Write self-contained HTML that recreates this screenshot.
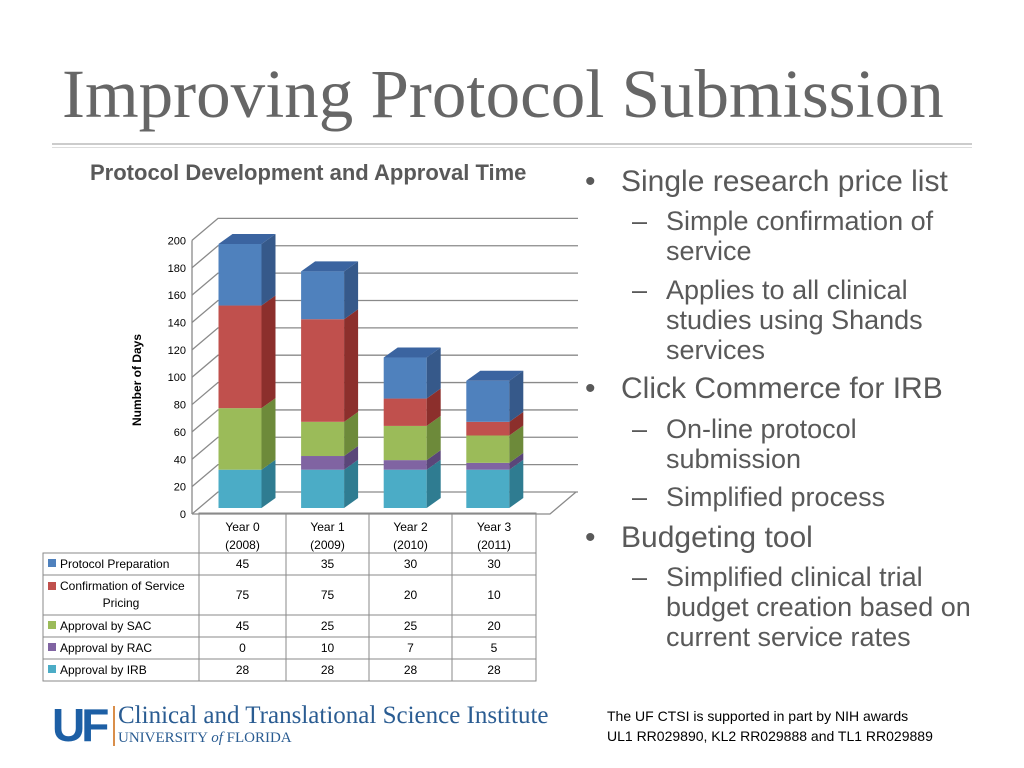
<!DOCTYPE html>
<html><head><meta charset="utf-8"><style>
body{margin:0;width:1024px;height:768px;background:#fff;overflow:hidden;position:relative;font-family:"Liberation Sans","DejaVu Sans",sans-serif;color:#595959}
.t{position:absolute;white-space:nowrap}
.b{font-size:30px}
.s{font-size:27px;line-height:30px}
</style></head><body>
<div class="t" style="left:62px;top:55px;font-family:'Liberation Serif',serif;font-size:69px;color:#666">Improving Protocol Submission</div>
<div style="position:absolute;left:52px;top:143px;width:920px;height:2px;background:#ccc"></div>
<div style="position:absolute;left:52px;top:147px;width:920px;height:1px;background:#ddd"></div>
<div class="t" style="left:90px;top:160px;font-size:22px;font-weight:bold;color:#595959">Protocol Development and Approval Time</div>

<div class="t b" style="left:585px;top:165px">•</div>
<div class="t b" style="left:621px;top:165px">Single research price list</div>
<div class="t s" style="left:632px;top:206px">–</div>
<div class="t s" style="left:666px;top:206px">Simple confirmation of<br>service</div>
<div class="t s" style="left:632px;top:275px">–</div>
<div class="t s" style="left:666px;top:275px">Applies to all clinical<br>studies using Shands<br>services</div>
<div class="t b" style="left:585px;top:372px">•</div>
<div class="t b" style="left:621px;top:372px">Click Commerce for IRB</div>
<div class="t s" style="left:632px;top:414px">–</div>
<div class="t s" style="left:666px;top:414px">On-line protocol<br>submission</div>
<div class="t s" style="left:632px;top:482px">–</div>
<div class="t s" style="left:666px;top:482px">Simplified process</div>
<div class="t b" style="left:585px;top:521px">•</div>
<div class="t b" style="left:621px;top:521px">Budgeting tool</div>
<div class="t s" style="left:632px;top:562px">–</div>
<div class="t s" style="left:666px;top:562px">Simplified clinical trial<br>budget creation based on<br>current service rates</div>

<div class="t" style="left:607px;top:706px;font-size:14px;line-height:20px;color:#000">The UF CTSI is supported in part by NIH awards<br>UL1 RR029890, KL2 RR029888 and TL1 RR029889</div>

<div style="position:absolute;left:52px;top:706px">
<div class="t" style="left:0;top:-8px;font-family:'Liberation Sans',sans-serif;font-weight:bold;font-size:46px;color:#1d5fa5;letter-spacing:-4px">UF</div>
<div style="position:absolute;left:61px;top:0;width:2px;height:40px;background:#d98e4a"></div>
<div class="t" style="left:66px;top:-4px;font-family:'Liberation Serif',serif;font-size:25px;color:#2a5c92">Clinical and Translational Science Institute</div>
<div class="t" style="left:66px;top:24px;font-family:'Liberation Serif',serif;font-size:15px;color:#2a5c92">UNIVERSITY <i>of</i> FLORIDA</div>
</div>

<svg id="chart" style="position:absolute;left:0;top:0" width="1024" height="768"></svg>

<script>
const categories=["Year 0","Year 1","Year 2","Year 3"];
const years=["(2008)","(2009)","(2010)","(2011)"];
const seriesNames=["Approval by IRB","Approval by RAC","Approval by SAC","Confirmation of Service Pricing","Protocol Preparation"];
const irb=[28,28,28,28];
const rac=[0,10,7,5];
const sac=[45,25,25,20];
const conf=[75,75,20,10];
const prep=[45,35,30,30];
const yTicks=[0,20,40,60,80,100,120,140,160,180,200];

const svgEl=document.getElementById('chart');
const NS='http://www.w3.org/2000/svg';
function mk(tag,attrs,parent){const e=document.createElementNS(NS,tag);for(const k in attrs)e.setAttribute(k,attrs[k]);(parent||svgEl).appendChild(e);return e;}
const K=1.368, Y0=514, X0=192, DX=26, DY=-22, RIGHT=578;
function yF(v){return Y0-v*K;}
function xC(i){return 240+i*82.6;}
for(const v of yTicks){
  const y=yF(v);
  const g=mk('polyline',{points:`${X0},${y} ${X0+DX},${y+DY} ${RIGHT},${y+DY}`,fill:'none',stroke:'#8a8a8a','stroke-width':1.3});
  
  
  const t=mk('text',{x:X0-6,y:y+4,'text-anchor':'end','font-size':11,fill:'#000','font-family':'Liberation Sans, sans-serif'});
  t.textContent=v;
  
  
}
const ax=mk('line',{x1:X0,y1:yF(0),x2:X0,y2:yF(200),stroke:'#8a8a8a','stroke-width':1.3});


const floorL=mk('polyline',{points:`${X0},${Y0} 550,${Y0} ${550+DX},${Y0+DY}`,fill:'none',stroke:'#8a8a8a','stroke-width':1.3});


const yt=mk('text',{x:0,y:0,'text-anchor':'middle','font-size':12,'font-weight':'bold',fill:'#000',transform:'translate(141,380) rotate(-90)','font-family':'Liberation Sans, sans-serif'});
yt.textContent='Number of Days';



const seriesList=[irb,rac,sac,conf,prep];
const frontC=['#4bacc6','#8064a2','#9bbb59','#c0504d','#4f81bd'];
const sideC=['#2f7c91','#5a4679','#6d8a3a','#8c2f2c','#36598a'];
const topC='#3b64a0';
const W=43, BDX=14, BDY=-10, BASE=508;
for(let i=0;i<categories.length;i++){
  let cum=0; const x=xC(i)-W/2;
  for(let s=0;s<seriesList.length;s++){
    const v=seriesList[s][i]; if(v<=0) continue;
    const y1=BASE-cum*K, y2=BASE-(cum+v)*K;
    const f=mk('rect',{x:x,y:y2,width:W,height:y1-y2,fill:frontC[s]});
    
    
    const sd=mk('polygon',{points:`${x+W},${y1} ${x+W+BDX},${y1+BDY} ${x+W+BDX},${y2+BDY} ${x+W},${y2}`,fill:sideC[s]});
    
    
    cum+=v;
  }
  const yt2=BASE-cum*K;
  const tp=mk('polygon',{points:`${x},${yt2} ${x+BDX},${yt2+BDY} ${x+W+BDX},${yt2+BDY} ${x+W},${yt2}`,fill:topC});
  
  
}

const colX=[199,286,369,452,536], LX=43;
const rows=[[513,553],[553,575],[575,615],[615,637],[637,659],[659,681]];
const rowSeries=[prep,conf,sac,rac,irb];
const rowNames=["Protocol Preparation","Confirmation of Service","Approval by SAC","Approval by RAC","Approval by IRB"];
const rowColors=['#4f81bd','#c0504d','#9bbb59','#8064a2','#4bacc6'];
const bs={stroke:'#8a8a8a','stroke-width':1,fill:'none'};
mk('rect',Object.assign({x:colX[0],y:rows[0][0],width:colX[4]-colX[0],height:rows[0][1]-rows[0][0]},bs));
mk('rect',Object.assign({x:LX,y:rows[1][0],width:colX[4]-LX,height:rows[5][1]-rows[1][0]},bs));
for(let r=1;r<rows.length-1;r++) mk('line',{x1:LX,y1:rows[r][1],x2:colX[4],y2:rows[r][1],stroke:'#8a8a8a'});
for(let c=0;c<4;c++) mk('line',{x1:colX[c],y1:rows[0][0],x2:colX[c],y2:rows[5][1],stroke:'#8a8a8a'});
for(let i=0;i<categories.length;i++){
  const cx=(colX[i]+colX[i+1])/2;
  const h=mk('text',{x:cx,y:531,'text-anchor':'middle','font-size':12,fill:'#000','font-family':'Liberation Sans, sans-serif'});
  h.textContent=categories[i];
  
  
  const h2=mk('text',{x:cx,y:549,'text-anchor':'middle','font-size':12,fill:'#000','font-family':'Liberation Sans, sans-serif'});
  h2.textContent=years[i];
  
  
}
for(let r=0;r<5;r++){
  const a=rows[r+1][0], b=rows[r+1][1]; const cy=(a+b)/2+4;
  const sw=mk('rect',{x:48,y:(r==1?a+7:cy-9),width:8,height:8,fill:rowColors[r]});
  
  
  const lt=mk('text',{x:60,y:(r==1?a+15:cy),'font-size':12,fill:'#000','font-family':'Liberation Sans, sans-serif'});
  lt.textContent=rowNames[r];
  
  
  if(r==1){
    const l2=mk('text',{x:121,y:a+32,'text-anchor':'middle','font-size':12,fill:'#000','font-family':'Liberation Sans, sans-serif'});
    l2.textContent='Pricing';
    
    
  }
  for(let i=0;i<4;i++){
    const v=mk('text',{x:(colX[i]+colX[i+1])/2,y:cy,'text-anchor':'middle','font-size':12,fill:'#000','font-family':'Liberation Sans, sans-serif'});
    v.textContent=rowSeries[r][i];
    
    
  }
}
</script>
</body></html>
